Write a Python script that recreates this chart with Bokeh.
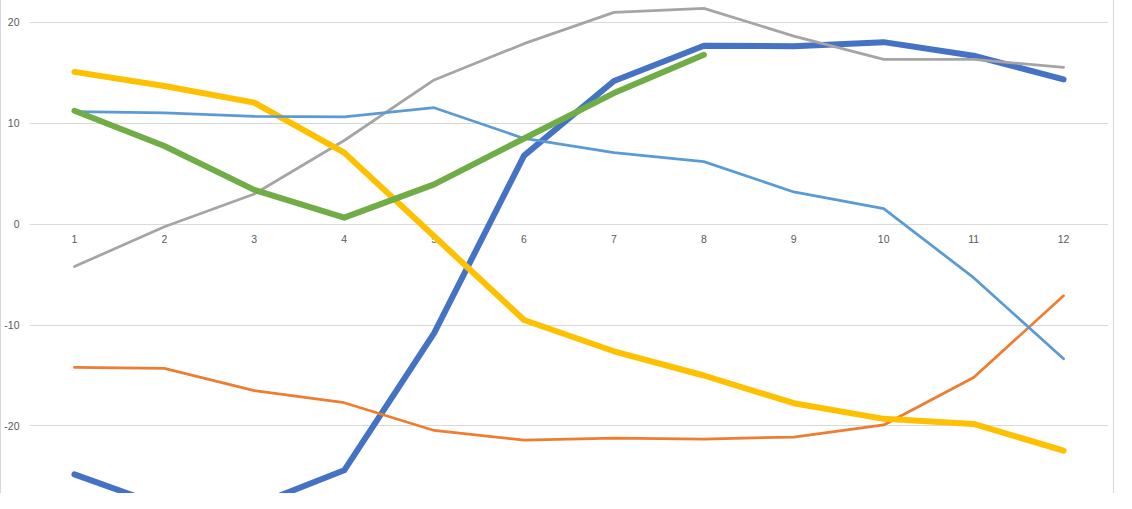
from bokeh.plotting import figure
from bokeh.models import Range1d, FixedTicker, ColumnDataSource
from bokeh.core.properties import value
from bokeh.embed import file_html
from bokeh.resources import INLINE

categories = [1, 2, 3, 4, 5, 6, 7, 8, 9, 10, 11, 12]
tick_labels = ["1", "2", "3", "4", "5", "6", "7", "8", "9", "10", "11", "12"]
y_ticks = [-20, -10, 0, 10, 20]
y_tick_labels = ["-20", "-10", "0", "10", "20"]

series1 = [-24.8, -28.0, -27.9, -24.4, -10.8, 6.8, 14.2, 17.7, 17.65, 18.05, 16.7, 14.35]
series2 = [-14.2, -14.3, -16.5, -17.7, -20.45, -21.4, -21.2, -21.3, -21.1, -19.9, -15.2, -7.1]
series3 = [-4.2, -0.25, 3.0, 8.3, 14.3, 17.9, 21.0, 21.4, 18.65, 16.35, 16.35, 15.55]
series4 = [15.1, 13.7, 12.05, 7.1, -1.2, -9.5, -12.6, -15.0, -17.75, -19.3, -19.8, -22.45]
series5 = [11.15, 11.05, 10.7, 10.65, 11.55, 8.5, 7.1, 6.2, 3.2, 1.55, -5.3, -13.35]
series6 = [11.25, 7.75, 3.4, 0.65, 3.95, 8.5, 13.0, 16.8]

p = figure(width=1114, height=493, output_backend="svg", toolbar_location=None,
           x_range=Range1d(0.5, 12.5), y_range=Range1d(-26.7, 22.18),
           min_border_left=26, min_border_right=7, min_border_top=0, min_border_bottom=0,
           x_axis_location=None)
p.styles = {"border-left": "1px solid #d9d9d9", "border-right": "1px solid #d9d9d9"}
p.outline_line_color = None
p.background_fill_color = "white"
p.border_fill_color = "white"

p.xgrid.visible = False
p.ygrid.ticker = FixedTicker(ticks=y_ticks)
p.ygrid.grid_line_color = "#d9d9d9"
p.ygrid.grid_line_width = 1

p.yaxis.ticker = FixedTicker(ticks=y_ticks)
p.yaxis.major_label_overrides = {t: s for t, s in zip(y_ticks, y_tick_labels)}
p.yaxis.axis_line_color = None
p.yaxis.major_tick_line_color = None
p.yaxis.minor_tick_line_color = None
p.yaxis.major_tick_out = 0
p.yaxis.major_tick_in = 0
p.yaxis.major_label_standoff = 10
p.yaxis.major_label_text_font = "Liberation Sans"
p.yaxis.major_label_text_font_size = "10.5px"
p.yaxis.major_label_text_color = "#595959"

# category labels along the zero line
lab_src = ColumnDataSource(dict(x=categories, y=[0] * len(categories), t=tick_labels))
p.text(x="x", y="y", text="t", source=lab_src, text_align="center", text_baseline="middle",
       y_offset=15, text_font=value("Liberation Sans"), text_font_size="10.5px",
       text_color="#595959")

styles = [
    (series1, "#4472C4", 6),
    (series2, "#ED7D31", 2.75),
    (series3, "#A5A5A5", 2.75),
    (series4, "#FFC000", 6),
    (series5, "#5B9BD5", 2.75),
    (series6, "#70AD47", 6),
]
for ys, col, w in styles:
    p.line(categories[:len(ys)], ys, line_color=col, line_width=w,
           line_cap="round", line_join="round")

open("out.html", "w").write(file_html(p, INLINE))
